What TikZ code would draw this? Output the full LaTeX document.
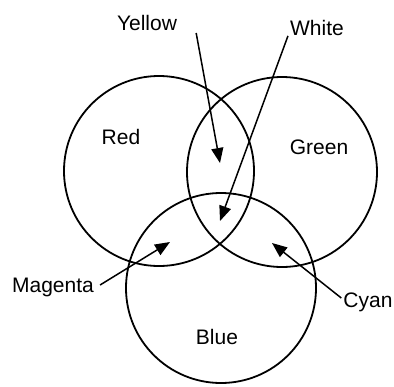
\documentclass[tikz,border=0pt]{standalone}
\usepackage{fontspec}
\setmainfont{Liberation Sans}
\usetikzlibrary{arrows.meta}
\begin{document}
\begin{tikzpicture}[x=1pt,y=-1pt,
  ring/.style={draw, circle, minimum size=190pt, inner sep=0pt, line width=1.8pt},
  lbl/.style={font=\fontsize{21}{24}\selectfont, inner sep=1pt},
  pointer/.style={line width=1.5pt, -{Triangle[length=15pt,width=12pt]}}]
\useasboundingbox (0,0) rectangle (394,386);
\node[ring] (red) at (159,171) {};
\node[ring] (green) at (282,172) {};
\node[ring] (blue) at (221,288) {};
\node[lbl] (tred) at (121,137) {Red};
\node[lbl] (tgreen) at (319,147) {Green};
\node[lbl] (tblue) at (217,337) {Blue};
\node[lbl] (yel) at (147,23) {Yellow};
\node[lbl] (whi) at (317,28) {White};
\node[lbl] (mag) at (53,287) {Magenta};
\node[lbl] (cya) at (368,302) {Cyan};
\coordinate (ytip) at (220,163);
\coordinate (wtip) at (220,221);
\coordinate (mtip) at (170,242);
\coordinate (ctip) at (272,243);
\draw[pointer] ([xshift=18pt,yshift=-10pt]yel.east) -- (ytip);
\draw[pointer] ([xshift=-1pt,yshift=1pt]whi.south west) -- (wtip);
\draw[pointer] ([xshift=5pt,yshift=2pt]mag.east) -- (mtip);
\draw[pointer] ([xshift=-1pt,yshift=4pt]cya.west) -- (ctip);
\end{tikzpicture}
\end{document}
